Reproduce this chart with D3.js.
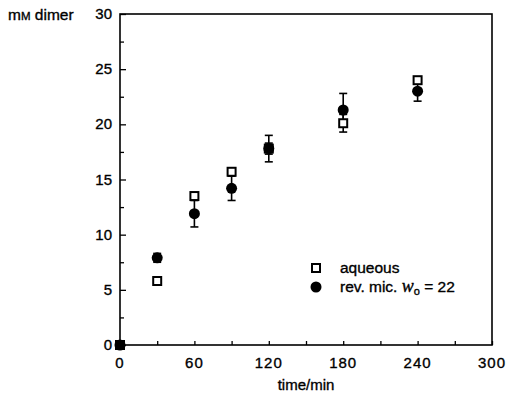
<!DOCTYPE html>
<html>
<head>
<meta charset="utf-8">
<script src="https://cdn.jsdelivr.net/npm/d3@7"></script>
<style>
  body { margin: 0; background: #fff; }
  svg { display: block; font-family: "Liberation Sans", Arial, sans-serif; }
  text { fill: #000; stroke: #000; stroke-width: 0.35; }
</style>
</head>
<body>
<div id="chart"></div>
<script>
// time points (min)
const times = [0, 30, 60, 90, 120, 180, 240];
// aqueous (open squares)
const aqueous = [0, 5.8, 13.5, 15.7, 17.8, 20.1, 24.0];
const aqueousErr = [0, 0.3, 0.3, 0.3, 0.5, 0.8, 0.3];
// reverse micelles w0 = 22 (filled circles)
const revMic = [0, 7.9, 11.9, 14.2, 17.8, 21.3, 23.0];
const revMicErr = [0, 0.4, 1.2, 1.1, 1.2, 1.5, 0.9];

const xTicks = [0, 60, 120, 180, 240, 300];
const yTicks = [0, 5, 10, 15, 20, 25, 30];

const W = 509, H = 399;
const M = { top: 14, right: 17, bottom: 54, left: 120 };

const svg = d3.select("#chart").append("svg").attr("width", W).attr("height", H);

const x = d3.scaleLinear().domain([0, 300]).range([M.left, W - M.right]);
const y = d3.scaleLinear().domain([0, 30]).range([H - M.bottom, M.top]);

// frame
svg.append("rect")
  .attr("x", x(0)).attr("y", y(30))
  .attr("width", x(300) - x(0)).attr("height", y(0) - y(30))
  .attr("fill", "none").attr("stroke", "#000").attr("stroke-width", 1.6);

// inward ticks
const gx = svg.append("g").attr("transform", `translate(0,${y(0)})`);
gx.call(d3.axisBottom(x).tickValues(d3.range(0, 301, 30)).tickSize(-4).tickFormat(""))
  .call(g => g.select(".domain").remove());
gx.selectAll(".tick line").attr("stroke-width", 1.3);
gx.append("g").selectAll("text").data(xTicks).join("text")
  .attr("x", d => x(d)).attr("y", 23)
  .attr("text-anchor", "middle").attr("font-size", 15).attr("letter-spacing", 1)
  .text(d => d);

const gy = svg.append("g").attr("transform", `translate(${x(0)},0)`);
gy.call(d3.axisLeft(y).tickValues(d3.range(0, 30.1, 2.5)).tickSize(-4).tickFormat(""))
  .call(g => g.select(".domain").remove());
gy.selectAll(".tick line").attr("stroke-width", 1.3);
gy.selectAll(".tick line").filter(d => d % 5 === 0).attr("x2", 6);
gy.append("g").selectAll("text").data(yTicks).join("text")
  .attr("x", -8).attr("y", d => y(d) + 5)
  .attr("text-anchor", "end").attr("font-size", 15)
  .text(d => d);

// axis titles
const yt = svg.append("text").attr("x", 8).attr("y", y(30) + 6).attr("font-size", 15.5);
yt.append("tspan").text("m");
yt.append("tspan").attr("font-size", 11.5).text("M");
yt.append("tspan").text(" dimer");

svg.append("text").attr("x", (x(0) + x(300)) / 2).attr("y", H - 9)
  .attr("text-anchor", "middle").attr("font-size", 15).text("time/min");

// error bars
function errorBars(vals, errs) {
  const g = svg.append("g").attr("stroke", "#000").attr("stroke-width", 1.6);
  times.forEach((t, i) => {
    if (!errs[i]) return;
    const cx = x(t), lo = y(vals[i] - errs[i]), hi = y(vals[i] + errs[i]);
    g.append("line").attr("x1", cx).attr("x2", cx).attr("y1", lo).attr("y2", hi);
    g.append("line").attr("x1", cx - 4).attr("x2", cx + 4).attr("y1", lo).attr("y2", lo);
    g.append("line").attr("x1", cx - 4).attr("x2", cx + 4).attr("y1", hi).attr("y2", hi);
  });
}
errorBars(revMic, revMicErr);
errorBars(aqueous, aqueousErr);

// markers
svg.append("g").selectAll("circle").data(times).join("circle")
  .attr("cx", d => x(d)).attr("cy", (d, i) => y(revMic[i])).attr("r", 5.5)
  .attr("fill", "#000");

svg.append("g").selectAll("rect").data(times).join("rect")
  .attr("x", d => x(d) - 4).attr("y", (d, i) => y(aqueous[i]) - 4)
  .attr("width", 8).attr("height", 8)
  .attr("fill", d => d === 0 || d === 120 ? "#000" : "#fff")
  .attr("stroke", "#000").attr("stroke-width", 2);

// legend
const lg = svg.append("g").attr("transform", "translate(316,268)");
lg.append("rect").attr("x", -4).attr("y", -4).attr("width", 8).attr("height", 8)
  .attr("fill", "#fff").attr("stroke", "#000").attr("stroke-width", 2);
lg.append("text").attr("x", 24).attr("y", 5).attr("font-size", 15.5).text("aqueous");
lg.append("circle").attr("cx", 0).attr("cy", 19).attr("r", 5.5).attr("fill", "#000");
const lt = lg.append("text").attr("x", 24).attr("y", 24).attr("font-size", 15.5);
lt.append("tspan").text("rev. mic. ");
lt.append("tspan").attr("font-style", "italic").attr("font-family", "'Liberation Serif', serif").attr("font-size", 18).text("w");
lt.append("tspan").attr("font-size", 11).attr("dy", 3).text("o");
lt.append("tspan").attr("dy", -3).text(" = 22");
</script>
</body>
</html>
